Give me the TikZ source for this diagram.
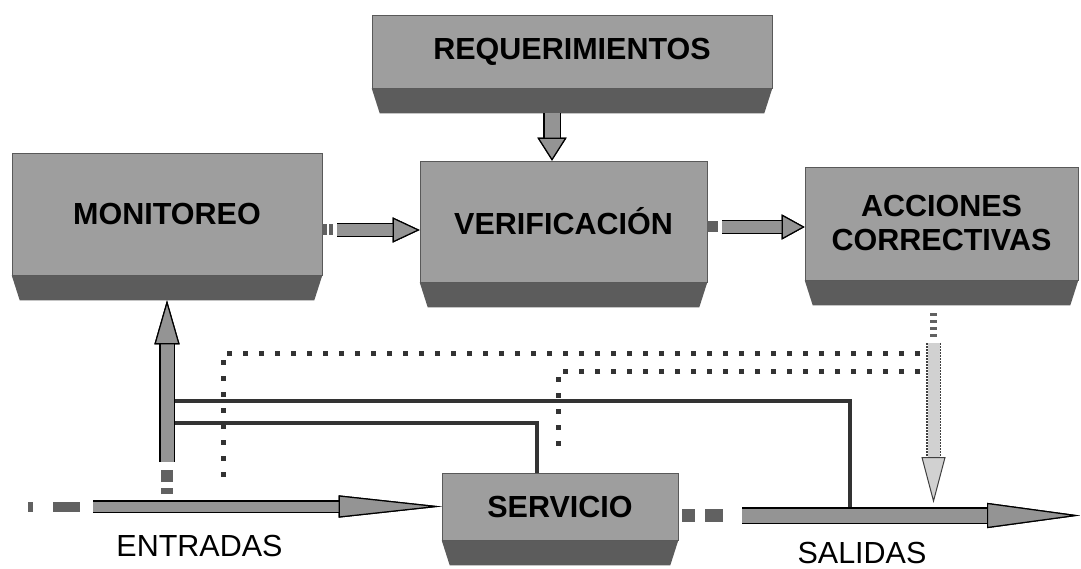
\documentclass[tikz,border=0pt]{standalone}
\usepackage{fontspec}
\setmainfont{Liberation Sans}
\usetikzlibrary{arrows.meta,calc}

\definecolor{facegray}{gray}{0.62}
\definecolor{bandgray}{gray}{0.36}
\definecolor{arrowgray}{gray}{0.58}
\definecolor{hatchgray}{gray}{0.82}

\tikzset{
  box/.style={fill=facegray, draw=black!65, line width=0.6pt, inner sep=0pt,
    align=center, font=\bfseries\fontsize{30.5}{34}\selectfont},
  flowlabel/.style={font=\fontsize{30.5}{34}\selectfont, inner sep=0pt},
  % block arrow: shaft width, head length, head width
  fat/.style n args={3}{line width=#1, draw=arrowgray,
    -{Triangle[length=#2pt, width=#3pt, line width=1.2pt, fill=arrowgray, color=black]},
    preaction={draw=black, line width=#1+2.4,
      -{Triangle[length=#2pt, width=#3pt, line width=1.2pt, fill=black, color=black]}}},
  tail/.style={line width=#1, draw=black!62},
  hatch/.style={line width=12, draw=hatchgray,
    -{Triangle[length=46pt, width=24pt, line width=1pt, fill=hatchgray, color=black!75]},
    preaction={draw=black!75, line width=14.4, dash pattern=on 1.5pt off 1.5pt,
      shorten >=44pt, -}},
  feed/.style={line width=3.5pt, draw=black!80},
  corr/.style={line width=5pt, draw=black!80, dash pattern=on 5pt off 11pt},
}

% darker strip under each box
\newcommand{\boxband}[1]{%
  \fill[bandgray] (#1.south west) -- (#1.south east)
    -- ($(#1.south east)+(-8,25)$) -- ($(#1.south west)+(8,25)$) -- cycle;}

\begin{document}
\begin{tikzpicture}[x=1pt, y=-1pt]
  \path[use as bounding box, fill=white] (0,0) rectangle (1081,569);

  % boxes
  \node[box, minimum width=400, minimum height=73] (req) at (572,51.5) {REQUERIMIENTOS};
  \node[box, minimum width=310, minimum height=122] (mon) at (167,214) {MONITOREO};
  \node[box, minimum width=287, minimum height=121] (ver) at (563.5,221.5) {VERIFICACIÓN};
  \node[box, minimum width=273, minimum height=113] (acc) at (941.5,223.5) {ACCIONES\\CORRECTIVAS};
  \node[box, minimum width=236, minimum height=67] (ser) at (560,506.5) {SERVICIO};
  \boxband{req}
  \boxband{mon}
  \boxband{ver}
  \boxband{acc}
  \boxband{ser}

  % labels
  \node[flowlabel] (entradas) at (199.5,546) {ENTRADAS};
  \node[flowlabel] (salidas) at (862,553) {SALIDAS};

  % points on the flows
  \coordinate (req-out) at ($(req.south)+(-20,25)$);
  \coordinate (mon-b) at ($(mon.south)+(0,25)$);
  \coordinate (acc-b) at ($(acc.south)+(-8,25)$);
  \coordinate (mv) at (mon.east |- 0,230);
  \coordinate (va) at (ver.east |- 0,227);
  \coordinate (up0) at (mon-b |- 0,494);
  \coordinate (in0) at (ser.west -| 28,0);
  \coordinate (out0) at ($(ser.east)+(4,9)$);
  \coordinate (out-end) at (out0 -| 1080,0);
  \coordinate (fix-end) at (acc-b |- 0,503);

  % feedback lines
  \coordinate (tap1) at ($(up0)+(8,-93)$);
  \coordinate (tap2) at ($(up0)+(8,-71)$);
  \coordinate (k1) at (850,508);
  \coordinate (ser-in) at ($(ser.north)+(-23,0)$);
  \draw[feed] (tap1) -| (k1);
  \draw[feed] (tap2) -| (ser-in);

  % corrective actions back to the process
  \draw[corr] (920,353) -| (223,485);
  \draw[corr] (920,371) -| (558,455);

  % block arrows
  \draw[fat={15}{23}{29}] (req-out) -- (req-out |- ver.north);
  \draw[tail=11, dash pattern=on 5pt off 2pt on 4pt off 20pt] (mv) -- ++(13,0);
  \draw[fat={12}{27}{25}] ($(mv)+(15,0)$) -- (mv -| ver.west);
  \draw[tail=11, dash pattern=on 11pt off 10pt] (va) -- ++(13,0);
  \draw[fat={12}{23}{25}] ($(va)+(15,0)$) -- (va -| acc.west);
  \draw[tail=12, dash pattern=on 6pt off 6pt on 12pt off 20pt] (up0) -- ++(0,-30);
  \draw[fat={13}{44}{25}] ($(up0)+(0,-32)$) -- (mon-b);
  \draw[tail=10, dash pattern=on 5pt off 20pt on 27pt off 20pt] (in0) -- ++(62,0);
  \draw[fat={10}{103}{22}] ($(in0)+(65,0)$) -- (ser.west);
  \draw[tail=13, dash pattern=on 13pt off 10pt on 18pt off 20pt] (out0) -- ++(58,0);
  \draw[fat={14}{93}{25}] ($(out0)+(60,0)$) -- (out-end);
  \draw[tail=7, dash pattern=on 3pt off 4pt] ($(acc-b)+(0,8)$) -- ++(0,26);
  \draw[hatch] ($(acc-b)+(0,38)$) -- (fix-end);
\end{tikzpicture}
\end{document}
